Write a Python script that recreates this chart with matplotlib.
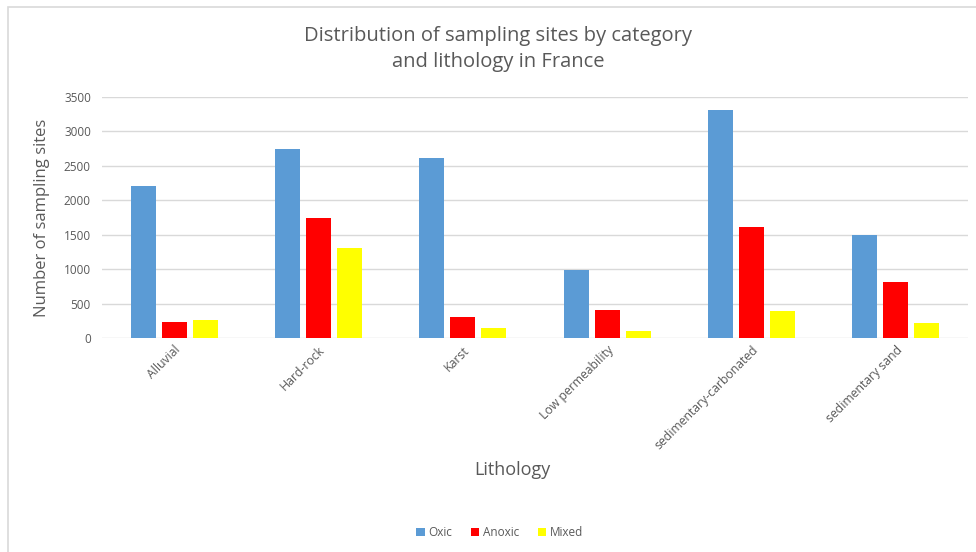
import numpy as np
import matplotlib
matplotlib.use("Agg")
import matplotlib.pyplot as plt
from matplotlib.patches import Rectangle

plt.rcParams['font.family'] = ['Open Sans', 'DejaVu Sans']

# Nombre de sites par lithologie et par catégorie
lithologies = ['Alluvial', 'Hard-rock', 'Karst', 'Low permeability',
               'sedimentary-carbonated', 'sedimentary sand']
oxic = [2200, 2740, 2615, 990, 3310, 1490]
anoxic = [240, 1745, 315, 410, 1615, 810]
mixed = [270, 1315, 145, 110, 400, 225]

series = [('Oxic', oxic, '#5B9BD5'),
          ('Anoxic', anoxic, '#FF0000'),
          ('Mixed', mixed, '#FFFF00')]

txt = '#595959'

fig = plt.figure(figsize=(9.76, 5.52), dpi=100)
ax = fig.add_axes([0.1045, 0.3871, 0.8873, 0.4377])

# Cadre gris autour du graphique
fig.patches.append(Rectangle((7.5 / 976, -0.1), 1.2, 1 - 6.5 / 552 + 0.1,
                             transform=fig.transFigure, fill=False,
                             edgecolor='#d9d9d9', linewidth=1.2))

x = np.arange(len(lithologies))
w = 0.174
step = 0.215
for i, (name, vals, col) in enumerate(series):
    ax.bar(x + (i - 1) * step, vals, width=w, color=col, label=name, zorder=3)

ax.set_xlim(-0.5, len(lithologies) - 0.5)
ax.set_ylim(0, 3500)
ax.set_yticks(range(0, 3501, 500))
ax.yaxis.grid(True, color='#d9d9d9', linewidth=1, zorder=0)
for s in ax.spines.values():
    s.set_visible(False)
ax.tick_params(axis='both', length=0, colors=txt, labelsize=8.5)
ax.tick_params(axis='y', pad=8)

ax.set_xticks(x + 0.03)
ax.set_xticklabels(lithologies, rotation=45, ha='right', va='center',
                   rotation_mode='anchor', color=txt, fontsize=8.8)
ax.tick_params(axis='x', pad=7)

ax.set_ylabel('Number of sampling sites', fontsize=12, color=txt, labelpad=10)
fig.text(0.525, 0.148, 'Lithology', ha='center', va='center',
         fontsize=13, color=txt)

fig.text(0.51, 0.911, 'Distribution of sampling sites by category\nand lithology in France',
         ha='center', va='center', fontsize=14.5, color=txt, linespacing=1.4)

ax.legend(loc='center', bbox_to_anchor=(0.512, 0.035), bbox_transform=fig.transFigure,
          ncol=3, frameon=False, fontsize=8.5, labelcolor=txt, handlelength=0.7,
          handleheight=0.7, handletextpad=0.3, columnspacing=1.6)

fig.savefig('out.png', dpi=100)
